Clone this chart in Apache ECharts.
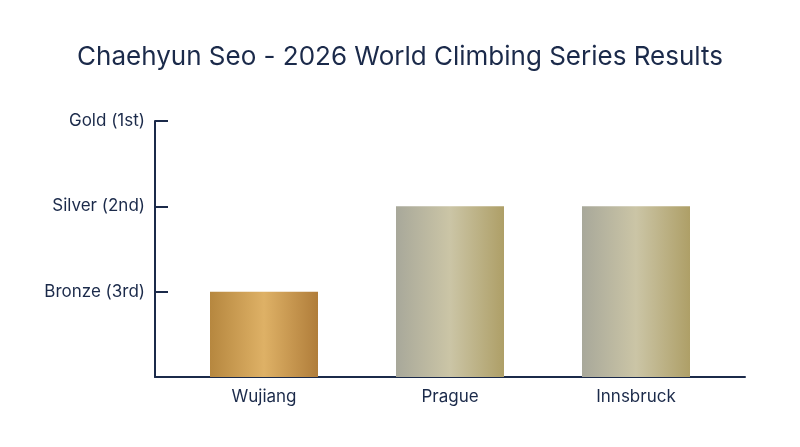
<!DOCTYPE html>
<html>
<head>
<meta charset="utf-8">
<script src="https://cdn.jsdelivr.net/npm/echarts@6/dist/echarts.min.js"></script>
<style>
  html, body { margin: 0; padding: 0; background: #fff; }
  #main { width: 800px; height: 447px; }
</style>
</head>
<body>
<div id="main"></div>
<script>
// 比赛数据
const competitions = ['Wujiang', 'Prague', 'Innsbruck']
// 名次分值: 1 = Bronze, 2 = Silver, 3 = Gold
const placeScores = [1, 2, 2]
const rankLabels = ['', 'Bronze (3rd)', 'Silver (2nd)', 'Gold (1st)']

const navy = '#1b2a4a'
const font = 'Inter'

// 横向渐变
const bronzeFill = new echarts.graphic.LinearGradient(0, 0, 1, 0, [
  { offset: 0, color: '#b6873f' },
  { offset: 0.5, color: '#deb166' },
  { offset: 1, color: '#b07d3a' }
])
const silverFill = new echarts.graphic.LinearGradient(0, 0, 1, 0, [
  { offset: 0, color: '#a8a89a' },
  { offset: 0.5, color: '#cbc5a6' },
  { offset: 1, color: '#ae9f67' }
])
const goldFill = new echarts.graphic.LinearGradient(0, 0, 1, 0, [
  { offset: 0, color: '#c9a227' },
  { offset: 0.5, color: '#f3d36b' },
  { offset: 1, color: '#c59a1f' }
])
const fills = [null, bronzeFill, silverFill, goldFill]

var myChart = echarts.init(document.getElementById('main'))

var option = {
  backgroundColor: '#fff',
  animation: false,
  title: {
    text: 'Chaehyun Seo - 2026 World Climbing Series Results',
    left: 'center',
    top: 39,
    textStyle: {
      color: navy,
      fontFamily: font,
      fontSize: 26,
      fontWeight: 'normal'
    }
  },
  grid: [
    { left: 171, right: 71, top: 121, bottom: 70 },
    // 只用来画较长的x轴线
    { left: 155, right: 55, top: 121, bottom: 70 }
  ],
  xAxis: [
    {
      type: 'category',
      gridIndex: 0,
      data: competitions,
      axisLine: { show: false },
      axisTick: { show: false },
      axisLabel: {
        color: navy,
        fontFamily: font,
        fontSize: 17,
        margin: 11
      }
    },
    {
      type: 'value',
      gridIndex: 1,
      axisLine: { show: true, lineStyle: { color: navy, width: 2 } },
      axisTick: { show: false },
      axisLabel: { show: false },
      splitLine: { show: false }
    }
  ],
  yAxis: [
    {
      type: 'value',
      gridIndex: 0,
      min: 0,
      max: 3,
      interval: 1,
      offset: 16,
      axisLine: { show: true, lineStyle: { color: navy, width: 2 } },
      axisTick: { show: true, inside: true, length: 13, lineStyle: { color: navy, width: 2 } },
      axisLabel: {
        color: navy,
        fontFamily: font,
        fontSize: 17,
        margin: 10,
        formatter: v => rankLabels[v] || ''
      },
      splitLine: { show: false }
    },
    {
      type: 'value',
      gridIndex: 1,
      show: false
    }
  ],
  series: [
    {
      type: 'bar',
      xAxisIndex: 0,
      yAxisIndex: 0,
      barWidth: 108,
      data: placeScores.map(v => ({ value: v, itemStyle: { color: fills[v] } }))
    }
  ]
}

myChart.setOption(option)

window.onresize = () => {
  myChart.resize()
}
</script>
</body>
</html>
